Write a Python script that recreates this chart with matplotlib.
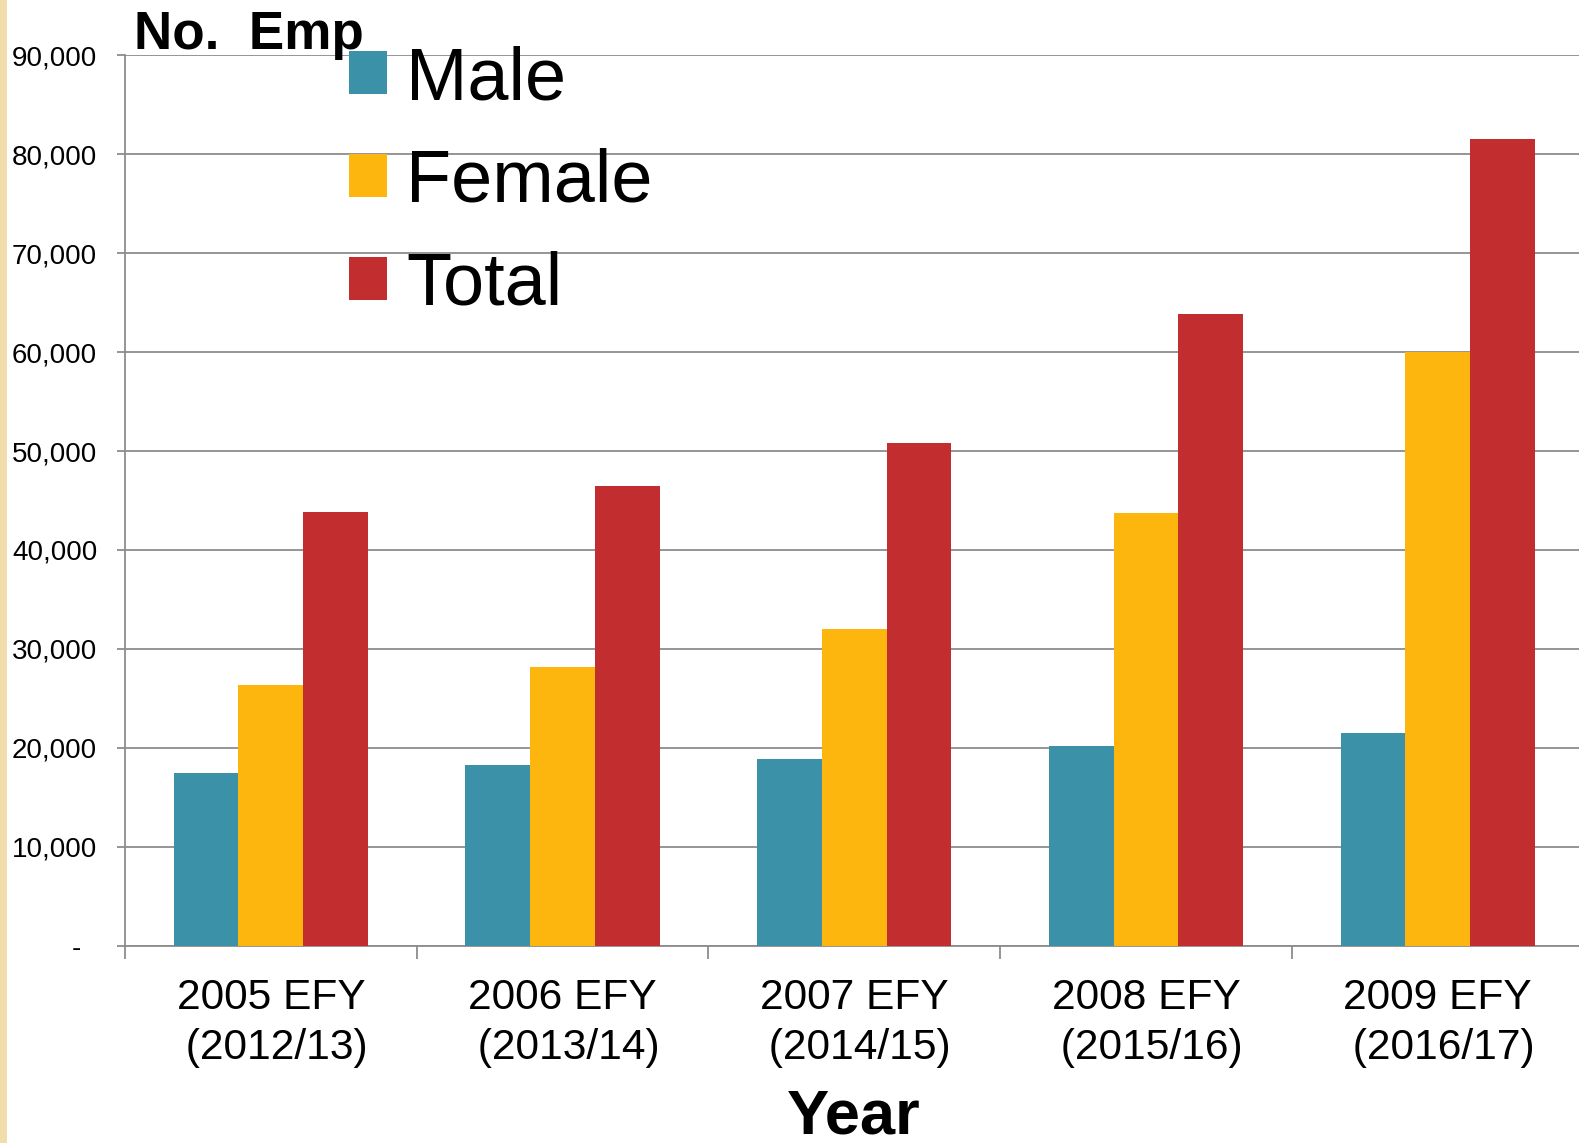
import matplotlib
matplotlib.use("Agg")
import matplotlib.pyplot as plt
import numpy as np
from matplotlib.patches import Rectangle

categories = ["2005 EFY\n (2012/13)", "2006 EFY\n (2013/14)", "2007 EFY\n (2014/15)",
              "2008 EFY\n (2015/16)", "2009 EFY\n (2016/17)"]
male = [17500, 18250, 18850, 20150, 21500]
female = [26350, 28200, 32000, 43700, 60000]
total = [43850, 46450, 50850, 63850, 81500]
series_names = ["Male", "Female", "Total"]
colors = ["#3A91A8", "#FDB60E", "#C22D2F"]
yticks = [0, 10000, 20000, 30000, 40000, 50000, 60000, 70000, 80000, 90000]
ytick_labels = ["-  "] + [f"{v:,}" for v in yticks[1:]]

plt.rcParams['font.family'] = ['Liberation Sans', 'DejaVu Sans']

W, H = 1579, 1143
fig = plt.figure(figsize=(W / 100, H / 100), dpi=100)
fig.patch.set_facecolor("white")

# decorative left strip
fig.add_artist(Rectangle((0, 0), 7 / W, 1, transform=fig.transFigure,
                         facecolor="#F1DDAA", edgecolor="none", zorder=0))

left = 125 / W
bottom = 1 - 945.7 / H
top = 1 - 55.3 / H
width = 1458.5 / W
ax = fig.add_axes([left, bottom, width, top - bottom])

x = np.arange(len(categories))
bw = 0.222
for i, (vals, name, c) in enumerate(zip([male, female, total], series_names, colors)):
    ax.bar(x + (i - 1) * bw, vals, width=bw, color=c, label=name, zorder=3,
           edgecolor="none")

ax.set_xlim(-0.5, len(categories) - 0.5)
ax.set_ylim(0, 90000)
ax.set_yticks(yticks)
ax.set_yticklabels(ytick_labels)
ax.yaxis.grid(True, color="#8C8C8C", linewidth=1.3, zorder=0)
ax.set_axisbelow(True)

ax.set_xticks(np.arange(-0.5, len(categories)), minor=False)
ax.set_xticklabels([])
ax.set_xticks(x, minor=True)
ax.set_xticklabels(categories, minor=True, fontsize=30.6, ha="center", linespacing=1.32)
ax.tick_params(axis="x", which="minor", length=0, pad=23)
ax.tick_params(axis="x", which="major", length=9, width=1.3, color="#8C8C8C", direction="out")
ax.tick_params(axis="y", length=6, width=1.3, color="#8C8C8C", direction="out",
               labelsize=20.0, pad=14)

for s in ["top", "right"]:
    ax.spines[s].set_visible(False)
for s in ["left", "bottom"]:
    ax.spines[s].set_color("#8C8C8C")
    ax.spines[s].set_linewidth(1.3)

ax.set_xlabel("Year", fontsize=45.5, fontweight="bold", labelpad=14)

fig.text(134 / W, 1 - 48.5 / H, "No.  Emp", fontsize=38.2, fontweight="bold",
         ha="left", va="baseline")

leg = ax.legend(loc="upper left", bbox_to_anchor=(349 / W, 1 - 45 / H),
                bbox_transform=fig.transFigure, frameon=False, fontsize=53.2,
                handlelength=0.52, handleheight=0.52, handletextpad=0.25,
                labelspacing=0.46, borderpad=0, borderaxespad=0)

fig.savefig("out.png", dpi=100)
